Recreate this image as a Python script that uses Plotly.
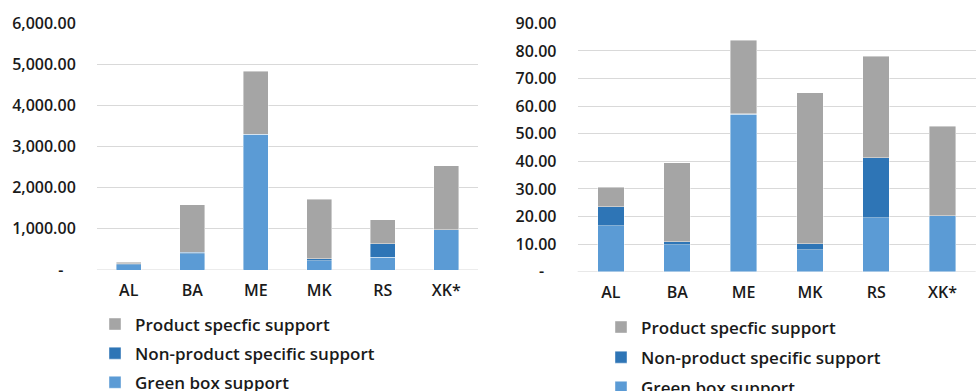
import plotly.graph_objects as go

# Countries on both panels
countries = ["AL", "BA", "ME", "MK", "RS", "XK*"]

# Left panel: support totals
green_box_total = [122, 390, 3290, 225, 315, 975]
non_product_total = [25, 40, 10, 50, 325, 0]
product_specific_total = [40, 1160, 1530, 1440, 585, 1555]

# Right panel: support per unit
green_box_unit = [16.7, 9.7, 57.0, 8.0, 19.5, 20.3]
non_product_unit = [6.9, 1.2, 0.3, 2.2, 21.7, 0.0]
product_specific_unit = [7.0, 28.5, 26.6, 54.6, 36.9, 32.4]

left_tickvals = [0, 1000, 2000, 3000, 4000, 5000, 6000]
left_ticktext = ["-\u00a0\u00a0\u00a0", "1,000.00", "2,000.00", "3,000.00", "4,000.00", "5,000.00", "6,000.00"]
right_tickvals = [0, 10, 20, 30, 40, 50, 60, 70, 80, 90]
right_ticktext = ["-\u00a0\u00a0\u00a0", "10.00", "20.00", "30.00", "40.00", "50.00", "60.00", "70.00", "80.00", "90.00"]

series_names = ["Green box support", "Non-product specific support", "Product specfic support"]
series_colors = ["#5B9BD5", "#2E75B6", "#A5A5A5"]
series_rank = [3, 2, 1]

FONT = "Open Sans"
TEXT_COLOR = "#1a1a1a"
GRID = "#D9D9D9"
tick_font = dict(family=FONT, size=16, color=TEXT_COLOR, weight=600)

fig = go.Figure()

panels = [
    ("x", "y", "legend", [green_box_total, non_product_total, product_specific_total]),
    ("x2", "y2", "legend2", [green_box_unit, non_product_unit, product_specific_unit]),
]
for xa, ya, lg, series in panels:
    for name, color, rank, vals in zip(series_names, series_colors, series_rank, series):
        fig.add_trace(go.Bar(
            x=countries, y=vals, name=name,
            marker=dict(color=color, line=dict(color="rgba(255,255,255,0.7)", width=0.6)),
            xaxis=xa, yaxis=ya, legend=lg,
            legendgroup=lg + name, legendrank=rank,
            hoverinfo="skip",
        ))

axis_common = dict(showline=False, zeroline=False, tickfont=tick_font)

legend_common = dict(
    xanchor="left", yanchor="top", traceorder="grouped",
    font=dict(family=FONT, size=17, color=TEXT_COLOR, weight=600),
    bgcolor="rgba(0,0,0,0)", itemclick=False, itemdoubleclick=False,
)

fig.update_layout(
    width=976, height=391,
    margin=dict(l=0, r=0, t=0, b=0, autoexpand=False),
    paper_bgcolor="white", plot_bgcolor="white",
    barmode="stack", bargap=0.6,
    font=dict(family=FONT, size=16, color=TEXT_COLOR),
    xaxis=dict(domain=[97 / 976, 478 / 976], anchor="y", showgrid=False,
               ticks="outside", ticklen=6, tickcolor="rgba(0,0,0,0)", **axis_common),
    yaxis=dict(domain=[(391 - 270) / 391, (391 - 23.3) / 391], anchor="x",
               range=[0, 6000], tickvals=left_tickvals, ticktext=left_ticktext,
               showgrid=True, gridcolor=GRID, gridwidth=1,
               ticks="outside", ticklen=17, tickcolor="rgba(0,0,0,0)", **axis_common),
    xaxis2=dict(domain=[577.7 / 976, 975.7 / 976], anchor="y2", showgrid=False,
                ticks="outside", ticklen=6, tickcolor="rgba(0,0,0,0)", **axis_common),
    yaxis2=dict(domain=[(391 - 271.7) / 391, (391 - 23.3) / 391], anchor="x2",
                range=[0, 90], tickvals=right_tickvals, ticktext=right_ticktext,
                showgrid=True, gridcolor=GRID, gridwidth=1,
                ticks="outside", ticklen=17, tickcolor="rgba(0,0,0,0)", **axis_common),
    legend=dict(x=95 / 976, y=(391 - 306.5) / 391, tracegroupgap=4, **legend_common),
    legend2=dict(x=601 / 976, y=(391 - 309.5) / 391, tracegroupgap=5, **legend_common),
)

# Bottom axis baseline for each panel
for xa, ya in [("x", "y"), ("x2", "y2")]:
    fig.add_shape(type="line", xref=f"{xa} domain", yref=ya, x0=0, x1=1, y0=0, y1=0,
                  line=dict(color=GRID, width=1), layer="below")

fig.write_html("out.html")
